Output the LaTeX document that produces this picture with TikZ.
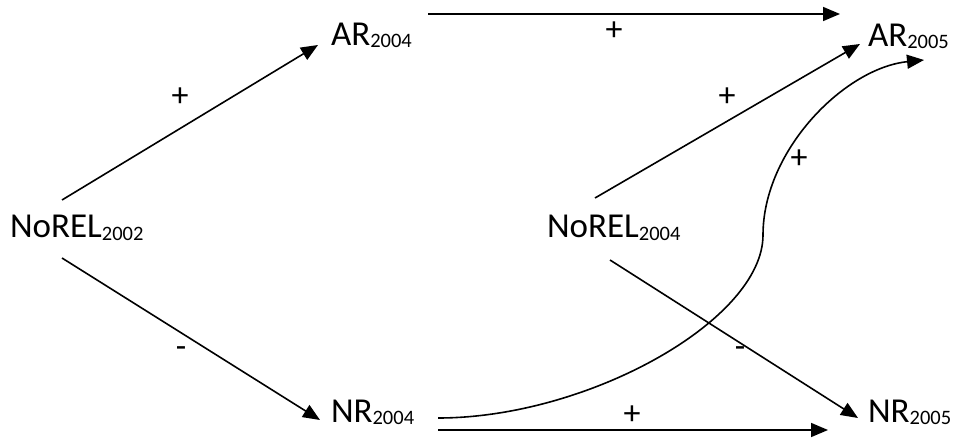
\documentclass[tikz,border=0pt]{standalone}
\usepackage{fontspec}
\setmainfont{Carlito}
\usetikzlibrary{arrows.meta,calc}
\newcommand\vlab[2]{#1\raisebox{-2pt}{\fontsize{20.5}{22}\selectfont #2}}
\tikzset{
  var/.style={inner sep=0pt, outer sep=0pt, anchor=base west, font=\fontsize{35}{42}\selectfont},
  conn/.style={line width=1.6pt, -{Triangle[length=17pt,width=14pt]}},
  sign/.style={inner sep=0pt, font=\fontsize{34}{40}\selectfont}
}
\begin{document}
\begin{tikzpicture}[x=1pt,y=-1pt]
\useasboundingbox (0,0) rectangle (955,438);
\node[var] (n02) at (10,238) {\vlab{NoREL}{2002}};
\node[var] (ar4) at (331,46) {\vlab{AR}{2004}};
\node[var] (nr4) at (331,422) {\vlab{NR}{2004}};
\node[var] (n04) at (547,238) {\vlab{NoREL}{2004}};
\node[var] (ar5) at (868,47) {\vlab{AR}{2005}};
\node[var] (nr5) at (868,422) {\vlab{NR}{2005}};
% connector ends
\coordinate (a1) at (62,200);
\coordinate (a2) at (62,258);
\coordinate (b1) at (428,14);
\coordinate (b2) at (840,14);
\coordinate (c1) at (595,198);
\coordinate (c2) at (610,260);
\coordinate (d1) at (438,430);
\coordinate (d2) at (828,430);
\coordinate (e1) at (438,418);
\coordinate (em) at (763,235);
\coordinate (e2) at (924,60);
\coordinate (t1) at (318,45);
\coordinate (t2) at (320,420);
\coordinate (t3) at (860,44);
\coordinate (t4) at (858,418);
\draw[conn] (a1) -- (t1);
\draw[conn] (a2) -- (t2);
\draw[conn] (b1) -- (b2);
\draw[conn] (c1) -- (t3);
\draw[conn] (c2) -- (t4);
\draw[conn] (d1) -- (d2);
\draw[conn] (e1) .. controls (588,418) and (763,320) .. (em)
  .. controls (763,150) and (845,68) .. (e2);
\node[sign] (s1) at (180,97) {+};
\node[sign] (s2) at (181,352) {-};
\node[sign] (s3) at (614,31) {+};
\node[sign] (s4) at (727,97) {+};
\node[sign] (s5) at (799,159) {+};
\node[sign] (s6) at (740,352) {-};
\node[sign] (s7) at (632,415) {+};
\end{tikzpicture}
\end{document}
